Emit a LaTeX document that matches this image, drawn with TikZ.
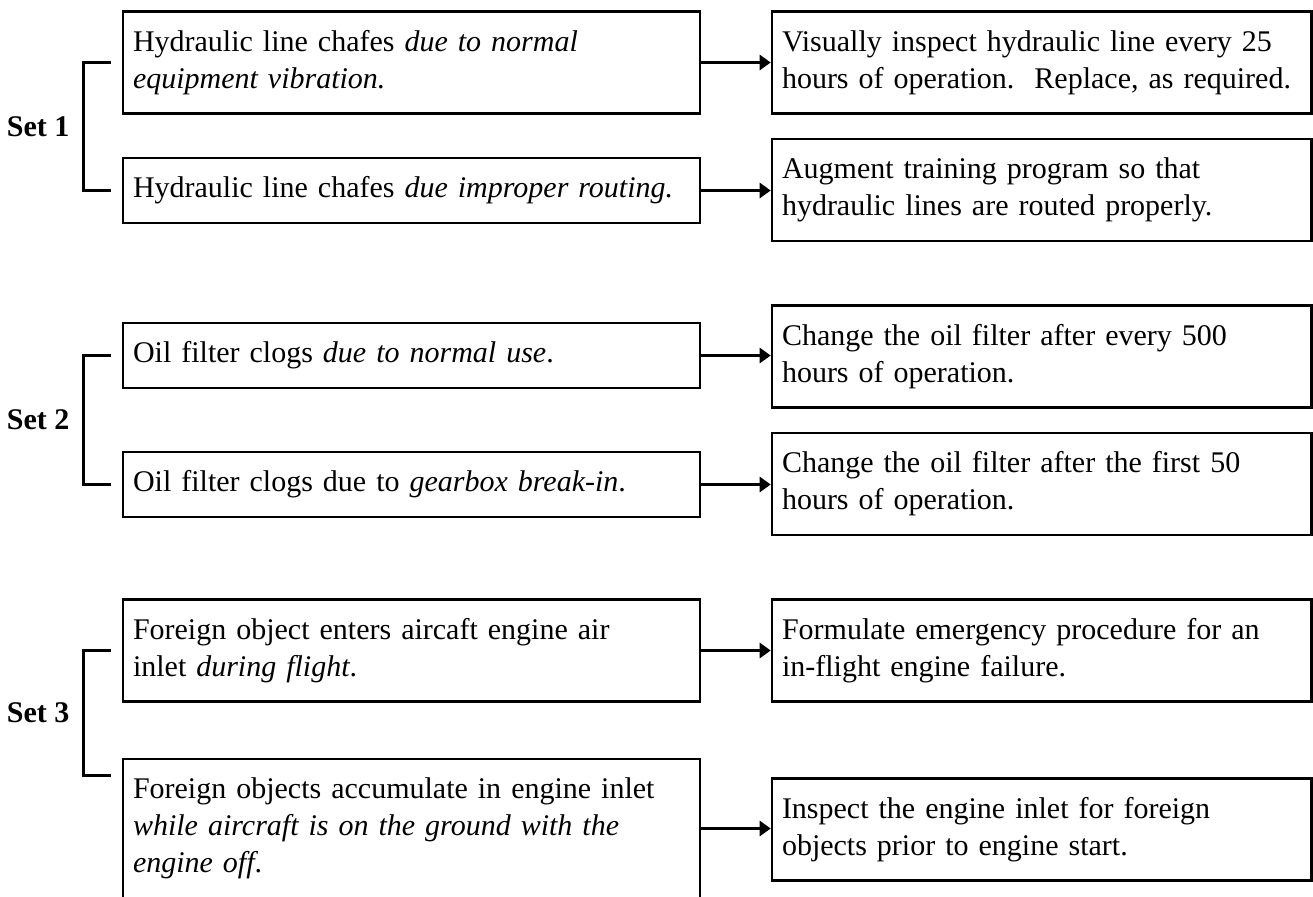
\documentclass[tikz,border=0pt]{standalone}
\usepackage{fontspec}
\setmainfont{Liberation Serif}
\usetikzlibrary{arrows.meta,calc}
\newcommand{\boxfont}{\fontsize{15pt}{18.5pt}\selectfont}

\begin{document}
\begin{tikzpicture}[
    x=0.5pt, y=-0.5pt,
    font=\boxfont,
    >={Triangle[length=5.5pt,width=7.5pt]},
    line width=1.6pt,
    cause/.style={draw, line width=1.3pt, text width=278.5pt,
      inner xsep=5pt, inner ysep=3pt, align=left},
    fix/.style={draw, line width=1.3pt, text width=259.75pt,
      inner xsep=5pt, inner ysep=3pt, align=left},
    rows/.style={minimum height=14pt+#1*18.5pt},
    setlabel/.style={font=\boxfont\bfseries}
  ]
  \useasboundingbox (0,0) rectangle (1313,896);

  % failure causes
  \node[cause, rows=2] (cause1) at (411.5,62.5)
    {Hydraulic line chafes \textit{due to normal}\\ \textit{equipment vibration.}};
  \node[cause, rows=1] (cause2) at (411.5,190.5)
    {Hydraulic line chafes \textit{due improper routing.}};
  \node[cause, rows=1] (cause3) at (411.5,355.5)
    {Oil filter clogs \textit{due to normal use}.};
  \node[cause, rows=1] (cause4) at (411.5,484.5)
    {Oil filter clogs due to \textit{gearbox break-in}.};
  \node[cause, rows=2] (cause5) at (411.5,650.5)
    {Foreign object enters aircaft engine air\\ inlet \textit{during flight}.};
  \node[cause, rows=3] (cause6) at (411.5,828.5)
    {Foreign objects accumulate in engine inlet\\
     \textit{while aircraft is on the ground with the}\\ \textit{engine off}.};

  % corrective actions
  \node[fix, rows=2] (fix1) at (1041.75,62.5)
    {Visually inspect hydraulic line every 25\\ hours of operation.\ \ Replace, as required.};
  \node[fix, rows=2] (fix2) at (1041.75,190)
    {Augment training program so that\\ hydraulic lines are routed properly.};
  \node[fix, rows=2] (fix3) at (1041.75,356.5)
    {Change the oil filter after every 500\\ hours of operation.};
  \node[fix, rows=2] (fix4) at (1041.75,484)
    {Change the oil filter after the first 50\\ hours of operation.};
  \node[fix, rows=2] (fix5) at (1041.75,650.5)
    {Formulate emergency procedure for an\\ in-flight engine failure.};
  \node[fix, rows=2] (fix6) at (1041.75,829.5)
    {Inspect the engine inlet for foreign\\ objects prior to engine start.};

  % arrows
  \foreach \i in {1,...,6}
    \draw[->] (cause\i.east) -- (cause\i.east -| fix\i.west);

  % set brackets
  \coordinate (low6) at ([yshift=-9pt]cause6.north west);
  \foreach \a/\b/\n in {cause1.west/cause2.west/1,
                        cause3.west/cause4.west/2,
                        cause5.west/low6/3}
    \draw ([xshift=-5.5pt]\a) -- ++(-27,0) |- ([xshift=-5.5pt]\b)
      node[pos=0.25, left=3pt, setlabel] (set\n) {Set \n};
\end{tikzpicture}
\end{document}
